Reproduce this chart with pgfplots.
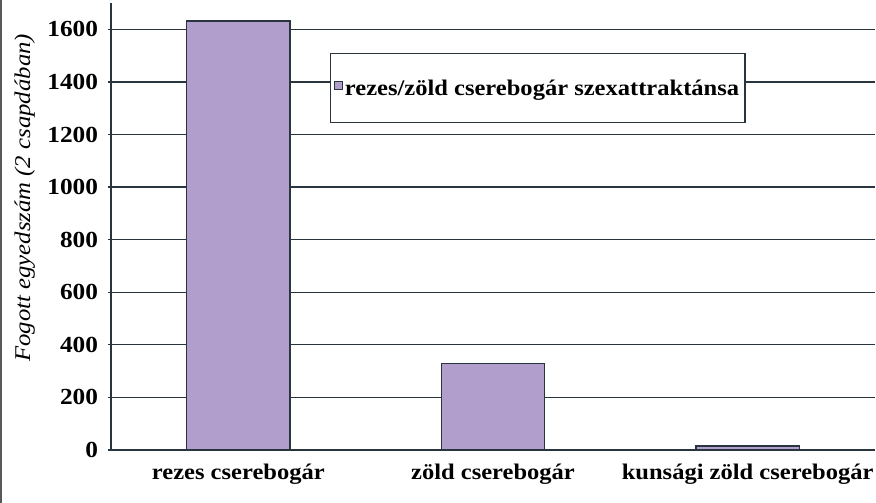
\documentclass[border=0pt]{standalone}
\usepackage{fontspec}
\setmainfont{Liberation Serif}[FakeStretch=1.1]
\usepackage{pgfplots}
\pgfplotsset{compat=1.18}
\definecolor{barcol}{RGB}{178,158,204}
\definecolor{edgecol}{RGB}{40,52,62}
\begin{document}
\begin{tikzpicture}[x=1pt,y=1pt]
\useasboundingbox (0,0) rectangle (876,503);
\fill[white] (0,0) rectangle (876,503);
\draw[gray!70!black, line width=2.2pt] (1,0) -- (1,503);
\begin{axis}[
  at={(111pt,53pt)}, anchor=south west,
  scale only axis, width=764pt, height=447pt,
  xmin=-0.5, xmax=2.5, ymin=0, ymax=1700,
  axis x line=bottom, axis y line=left,
  axis line style={-, draw=edgecol, line width=1.5pt},
  ytick={0,200,...,1600},
  ymajorgrids, grid style={draw=edgecol, line width=1.3pt},
  xtick={0,1,2},
  xticklabels={rezes cserebogár, zöld cserebogár, kunsági zöld cserebogár},
  x tick style={draw=none},
  extra x ticks={-0.5,0.5,1.5,2.5}, extra x tick labels={},
  extra x tick style={tick style={draw=edgecol, line width=1.3pt}, major tick length=5pt, tick align=outside, grid=none},
  y tick style={draw=edgecol, line width=1.3pt},
  major tick length=5pt, tick align=center,
  /pgf/number format/assume math mode=true,
  /pgf/number format/1000 sep={},
  tick label style={font=\fontsize{23}{27}\selectfont\bfseries},
  yticklabel style={xshift=-7pt},
  xticklabel style={yshift=-8pt, font=\fontsize{22.3}{26}\selectfont\bfseries},
  ylabel={Fogott egyedszám (2 csapdában)},
  every axis y label/.style={at={(axis description cs:-0.113,0.564)}, rotate=90, anchor=center, font=\fontsize{22.5}{26}\selectfont\itshape},
  legend style={at={(axis description cs:0.286,0.888)}, anchor=north west,
    draw=edgecol, line width=1.3pt, inner xsep=4pt, inner ysep=24pt,
    font=\fontsize{22.3}{26}\selectfont\bfseries, fill=white},
  legend image code/.code={\draw[fill=barcol, draw=edgecol, line width=0.8pt] (0pt,-1pt) rectangle (8pt,7pt);},
  legend cell align=left,
]
\addplot[ybar, bar width=0.405, fill=barcol, draw=edgecol, line width=1.3pt] coordinates {(0,1632) (1,330) (2,15)};
\addlegendentry{rezes/zöld cserebogár szexattraktánsa}
\end{axis}
\end{tikzpicture}
\end{document}
